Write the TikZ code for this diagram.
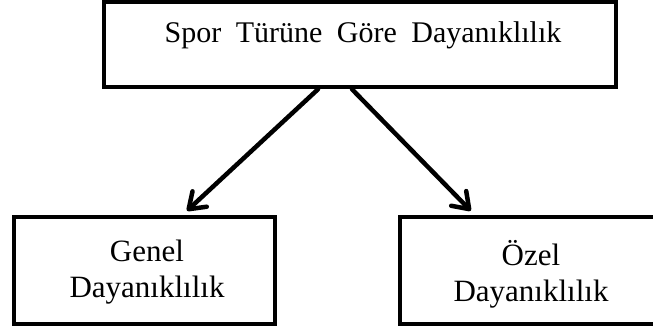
\documentclass[tikz,border=0pt]{standalone}
\usepackage{fontspec}
\setmainfont{Liberation Serif}
\usetikzlibrary{arrows.meta,calc}
\tikzset{
  box/.style={draw=black, line width=4.5pt, fill=white, inner sep=0pt},
  lbl/.style={font=\fontsize{31}{36}\selectfont, inner sep=0pt, align=center},
  arr/.style={line width=4.5pt, line cap=round, -{Straight Barb[length=15pt,width=21pt,line cap=round,line join=round]}}
}
\begin{document}
\begin{tikzpicture}[x=1pt,y=1pt]
\clip (0,0) rectangle (653,331);
\fill[white] (0,0) rectangle (653,331);
\node[box, minimum width=512pt, minimum height=85pt] (top) at (360,286.5) {};
\node[box, minimum width=261pt, minimum height=107pt] (left) at (144.5,60.5) {};
\node[box, minimum width=260pt, minimum height=107pt] (right) at (530,60.5) {};
\node[lbl, anchor=base, font=\fontsize{30}{36}\selectfont] (ttop) at (363,288) {\spaceskip=14.5pt\relax Spor Türüne Göre Dayanıklılık};
\node[lbl, anchor=base] (tleft) at (147,33) {Genel\\Dayanıklılık};
\node[lbl, anchor=base] (tright) at (531,29) {Özel\\Dayanıklılık};
\draw[arr] ($(top.south)+(-42,0)$) -- ($(left.north)+(42.5,4)$);
\draw[arr] ($(top.south)+(-8,0)$) -- ($(right.north west)+(73,4)$);
\end{tikzpicture}
\end{document}
